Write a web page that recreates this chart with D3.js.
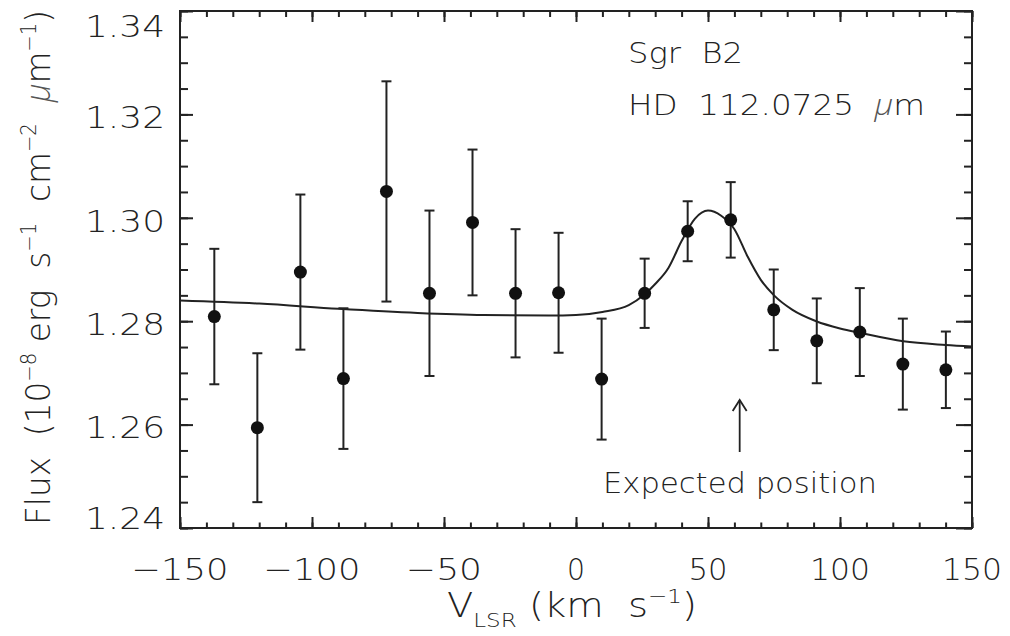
<!DOCTYPE html>
<html>
<head>
<meta charset="utf-8">
<script src="https://cdn.jsdelivr.net/npm/d3@7"></script>
<style>
  body { margin: 0; background: #fff; }
  svg { display: block; }
  text { font-family: "DejaVu Sans", "Liberation Sans", sans-serif; font-weight: 200; fill: #222; white-space: pre; }
  tspan.mu { font-family: "Open Sans", "Liberation Sans", sans-serif; font-weight: 300; font-style: oblique; fill: #555; }
</style>
</head>
<body>
<svg id="chart" width="1010" height="636"></svg>
<script>
// Measured spectrum: LSR velocity (km/s), flux (1e-8 erg s^-1 cm^-2 um^-1) and 1-sigma errors
const velocity = [-137.0, -120.7, -104.4, -88.1, -71.8, -55.5, -39.2, -22.9, -6.6,
                  9.7, 26.0, 42.3, 58.6, 74.9, 91.2, 107.5, 123.8, 140.1];
const flux = [1.2809, 1.2594, 1.2895, 1.2689, 1.3051, 1.2854, 1.2991, 1.2854, 1.2855,
              1.2688, 1.2854, 1.2974, 1.2996, 1.2822, 1.2762, 1.2779, 1.2717, 1.2706];
const fluxErr = [0.0131, 0.0144, 0.0150, 0.0136, 0.0213, 0.0160, 0.0141, 0.0124, 0.0116,
                 0.0117, 0.0067, 0.0058, 0.0073, 0.0078, 0.0082, 0.0085, 0.0088, 0.0074];

// Fitted line profile over a sloping continuum, sampled along the velocity axis
const fitVelocity = [-150, -120, -90, -60, -35, -10, 0, 10, 20, 26, 30, 35, 40, 45, 50,
                     55, 60, 65, 70, 75, 82, 91, 100, 108, 124, 140, 150];
const fitFlux = [1.2840, 1.2834, 1.2824, 1.2816, 1.2812, 1.2811, 1.2812, 1.2818, 1.2831,
                 1.2852, 1.2872, 1.2903, 1.2955, 1.2998, 1.3014, 1.3004, 1.2978, 1.2925,
                 1.2880, 1.2850, 1.2822, 1.2800, 1.2786, 1.2777, 1.2761, 1.2754, 1.2751];

const xTickValues = [-150, -100, -50, 0, 50, 100, 150];
const yTickValues = [1.24, 1.26, 1.28, 1.30, 1.32, 1.34];
const expectedVelocity = 62;

const svg = d3.select("#chart");
const plotLeft = 180, plotRight = 972, plotTop = 11, plotBottom = 528;

const x = d3.scaleLinear().domain([-150, 150]).range([plotLeft, plotRight]);
const y = d3.scaleLinear().domain([1.24, 1.34]).range([plotBottom, plotTop]);

const ink = "#222";

// Tick marks on all four sides (major + minor)
function ticks(axisFn, scale, values, size, transform) {
  const g = svg.append("g").attr("transform", transform)
    .call(axisFn(scale).tickValues(values).tickSize(size).tickFormat(""));
  g.select(".domain").remove();
  g.selectAll("line").attr("stroke", ink).attr("stroke-width", 2);
}
const xMinor = d3.range(-150, 151, 10);
const yMinor = d3.range(0, 21).map(i => 1.24 + i * 0.005);

ticks(d3.axisTop, x, xTickValues, 11, `translate(0,${plotBottom})`);
ticks(d3.axisTop, x, xMinor, 5.5, `translate(0,${plotBottom})`);
ticks(d3.axisBottom, x, xTickValues, 11, `translate(0,${plotTop})`);
ticks(d3.axisBottom, x, xMinor, 6, `translate(0,${plotTop})`);
ticks(d3.axisRight, y, yTickValues, 13, `translate(${plotLeft},0)`);
ticks(d3.axisRight, y, yMinor, 8, `translate(${plotLeft},0)`);
ticks(d3.axisLeft, y, yTickValues, 16, `translate(${plotRight},0)`);
ticks(d3.axisLeft, y, yMinor, 8, `translate(${plotRight},0)`);

// Frame
svg.append("rect")
  .attr("x", plotLeft).attr("y", plotTop)
  .attr("width", plotRight - plotLeft).attr("height", plotBottom - plotTop)
  .attr("fill", "none").attr("stroke", ink).attr("stroke-width", 2);

// Tick labels
const fmtX = d3.format("d");
svg.append("g").selectAll("text").data(xTickValues).join("text")
  .attr("x", d => x(d)).attr("y", 580)
  .attr("text-anchor", "middle")
  .attr("font-size", 31)
  .attr("textLength", d => {
    const s = fmtX(d);
    const digits = s.replace("−", "").length;
    return digits * 21 - 3 + (d < 0 ? 37 : 0);
  })
  .attr("lengthAdjust", "spacingAndGlyphs")
  .text(d => fmtX(d));

const fmtY = d3.format(".2f");
svg.append("g").selectAll("text").data(yTickValues).join("text")
  .attr("x", 165)
  .attr("y", d => Math.min(Math.max(y(d) + 3, plotTop + 15), plotBottom - 10))
  .attr("dy", "0.36em")
  .attr("text-anchor", "end")
  .attr("font-size", 30)
  .attr("textLength", 80)
  .attr("lengthAdjust", "spacingAndGlyphs")
  .text(d => fmtY(d));

// Rich text helper (superscripts / subscripts / italic mu)
function richText(el, parts, size) {
  let shift = 0;
  parts.forEach(p => {
    const t = el.append("tspan").text(p.t);
    const target = p.sup ? -size * 0.42 : p.sub ? size * 0.3 : 0;
    if (target !== shift) { t.attr("dy", target - shift); shift = target; }
    if (p.sup || p.sub) t.attr("font-size", size * 0.6);
    if (p.it) t.attr("class", "mu");
  });
}

// X axis title
const xTitle = svg.append("text")
  .attr("x", 447).attr("y", 617)
  .attr("font-size", 33)
  .attr("textLength", 250).attr("lengthAdjust", "spacingAndGlyphs");
richText(xTitle, [
  { t: "V" }, { t: "LSR", sub: true }, { t: "\u00a0(km\u00a0\u00a0s" }, { t: "−1", sup: true }, { t: ")" }
], 33);

// Y axis title
const yTitle = svg.append("text")
  .attr("transform", "translate(50,525) rotate(-90)")
  .attr("x", 0).attr("y", 0)
  .attr("font-size", 34)
  .attr("textLength", 515).attr("lengthAdjust", "spacingAndGlyphs");
richText(yTitle, [
  { t: "Flux\u00a0\u00a0(10" }, { t: "−8", sup: true }, { t: "\u00a0erg\u00a0\u00a0s" }, { t: "−1", sup: true },
  { t: "\u00a0\u00a0cm" }, { t: "−2", sup: true }, { t: "\u00a0\u00a0" }, { t: "μ", it: true }, { t: "m" },
  { t: "−1", sup: true }, { t: ")" }
], 34);

// Fitted curve
const line = d3.line()
  .x((d, i) => x(fitVelocity[i]))
  .y(d => y(d))
  .curve(d3.curveMonotoneX);
svg.append("path")
  .datum(fitFlux)
  .attr("d", line)
  .attr("fill", "none")
  .attr("stroke", ink)
  .attr("stroke-width", 2);

// Error bars
const pts = velocity.map((v, i) => ({ v, f: flux[i], e: fluxErr[i] }));
const eb = svg.append("g").attr("stroke", ink).attr("stroke-width", 2);
eb.selectAll("line.bar").data(pts).join("line")
  .attr("class", "bar")
  .attr("x1", d => x(d.v)).attr("x2", d => x(d.v))
  .attr("y1", d => y(d.f - d.e)).attr("y2", d => y(d.f + d.e));
eb.selectAll("line.capHi").data(pts).join("line")
  .attr("class", "capHi")
  .attr("x1", d => x(d.v) - 5).attr("x2", d => x(d.v) + 5)
  .attr("y1", d => y(d.f + d.e)).attr("y2", d => y(d.f + d.e));
eb.selectAll("line.capLo").data(pts).join("line")
  .attr("class", "capLo")
  .attr("x1", d => x(d.v) - 5).attr("x2", d => x(d.v) + 5)
  .attr("y1", d => y(d.f - d.e)).attr("y2", d => y(d.f - d.e));

// Data points
svg.append("g").selectAll("circle").data(pts).join("circle")
  .attr("cx", d => x(d.v)).attr("cy", d => y(d.f))
  .attr("r", 6.5).attr("fill", "#111");

// Annotations
svg.append("text").attr("x", 628).attr("y", 63)
  .attr("font-size", 29).attr("textLength", 115).attr("lengthAdjust", "spacingAndGlyphs")
  .text("Sgr\u00a0\u00a0B2");
const hd = svg.append("text").attr("x", 628).attr("y", 115)
  .attr("font-size", 29).attr("textLength", 297).attr("lengthAdjust", "spacingAndGlyphs");
richText(hd, [{ t: "HD\u00a0\u00a0112.0725\u00a0\u00a0" }, { t: "μ", it: true }, { t: "m" }], 29);

svg.append("text").attr("x", 603).attr("y", 493)
  .attr("font-size", 28).attr("textLength", 274).attr("lengthAdjust", "spacingAndGlyphs")
  .text("Expected\u00a0position");

// Arrow marking the expected line position
const ax = x(expectedVelocity);
const arrow = svg.append("g").attr("stroke", ink).attr("stroke-width", 1.8).attr("fill", "none");
arrow.append("line").attr("x1", ax).attr("x2", ax).attr("y1", 400).attr("y2", 452);
arrow.append("path").attr("d", `M${ax - 7},${411} L${ax},${400} L${ax + 7},${411}`);
</script>
</body>
</html>
